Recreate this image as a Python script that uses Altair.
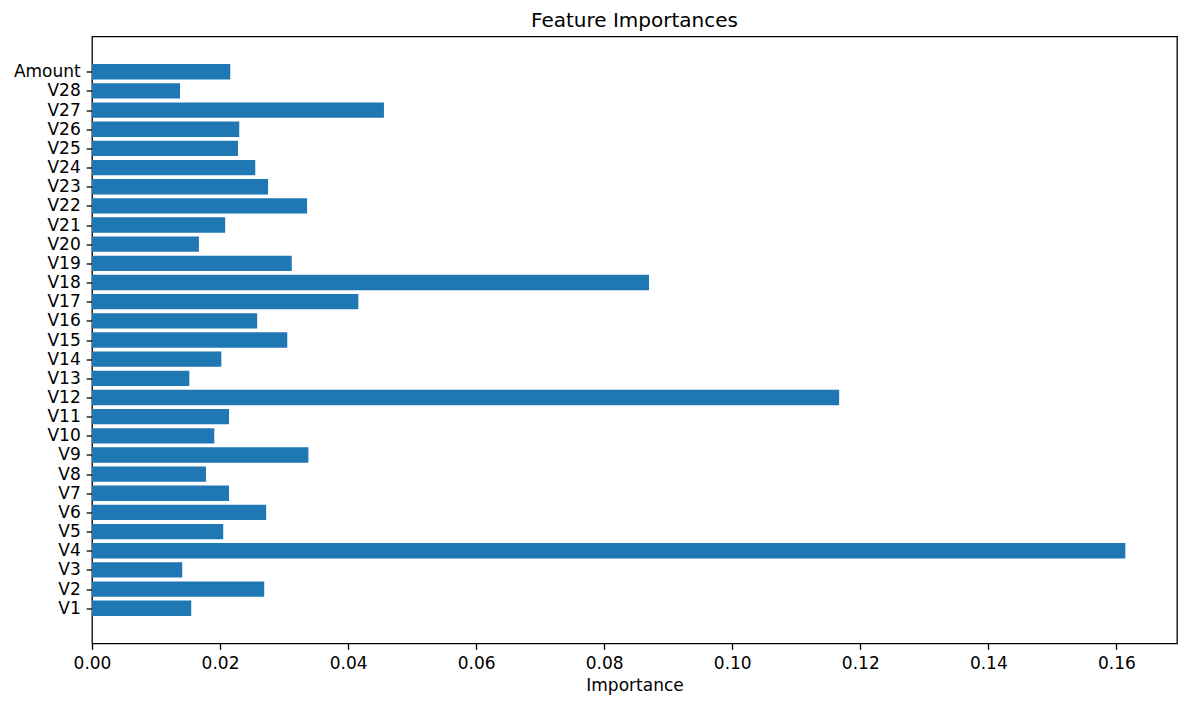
import altair as alt
import pandas as pd

features = [
    "V1", "V2", "V3", "V4", "V5", "V6", "V7", "V8", "V9", "V10",
    "V11", "V12", "V13", "V14", "V15", "V16", "V17", "V18", "V19", "V20",
    "V21", "V22", "V23", "V24", "V25", "V26", "V27", "V28", "Amount",
]
importances = [
    0.0155, 0.0269, 0.0141, 0.1614, 0.0205, 0.0272, 0.0214, 0.0178, 0.0338, 0.0191,
    0.0214, 0.1167, 0.0152, 0.0202, 0.0305, 0.0258, 0.0416, 0.0870, 0.0312, 0.0167,
    0.0208, 0.0336, 0.0275, 0.0255, 0.0228, 0.0230, 0.0456, 0.01375, 0.0216,
]
x_ticks = [0.0, 0.02, 0.04, 0.06, 0.08, 0.10, 0.12, 0.14, 0.16]

df = pd.DataFrame(
    {"feature": features, "importance": importances, "pos": range(len(features))}
)

font = "DejaVu Sans"
n = len(features)
# matplotlib-style 5% margins around the bar extent (-0.4 .. n-0.6)
span = (n - 1) + 0.8
y_domain = [-0.4 - 0.05 * span, n - 0.6 + 0.05 * span]
label_expr = "[" + ",".join(f"'{f}'" for f in features) + "][datum.value]"

chart = (
    alt.Chart(df)
    .transform_calculate(lo="datum.pos - 0.4", hi="datum.pos + 0.4")
    .mark_bar(color="#1f77b4", orient="horizontal")
    .encode(
        x=alt.X(
            "importance:Q",
            title="Importance",
            scale=alt.Scale(
                domain=[0, max(importances) * 1.05], nice=False, zero=True, padding=0
            ),
            axis=alt.Axis(
                values=x_ticks, format=".2f", grid=False, titlePadding=6, labelPadding=6
            ),
        ),
        x2=alt.datum(0),
        y=alt.Y(
            "lo:Q",
            title=None,
            scale=alt.Scale(domain=y_domain, nice=False, zero=False, padding=0),
            axis=alt.Axis(
                grid=False,
                values=list(range(n)),
                labelExpr=label_expr,
                labelPadding=6,
            ),
        ),
        y2="hi:Q",
        tooltip=["feature", "importance"],
    )
    .properties(
        width=1085,
        height=607,
        title=alt.TitleParams(
            "Feature Importances",
            font=font,
            fontSize=20,
            fontWeight="normal",
            color="black",
            offset=6,
        ),
        autosize=alt.AutoSizeParams(type="none"),
        padding={"left": 84, "top": 28.5, "right": 3, "bottom": 57},
    )
    .configure_view(stroke="black", strokeWidth=1.3)
    .configure_axis(
        labelFont=font,
        titleFont=font,
        labelFontSize=17,
        titleFontSize=17,
        titleFontWeight="normal",
        labelColor="black",
        titleColor="black",
        tickColor="black",
        tickSize=5.8,
        tickWidth=1.3,
        labelFlush=False,
        labelOverlap=False,
        domain=False,
    )
)

chart.save("out.html", embed_options={"renderer": "svg", "actions": False})
